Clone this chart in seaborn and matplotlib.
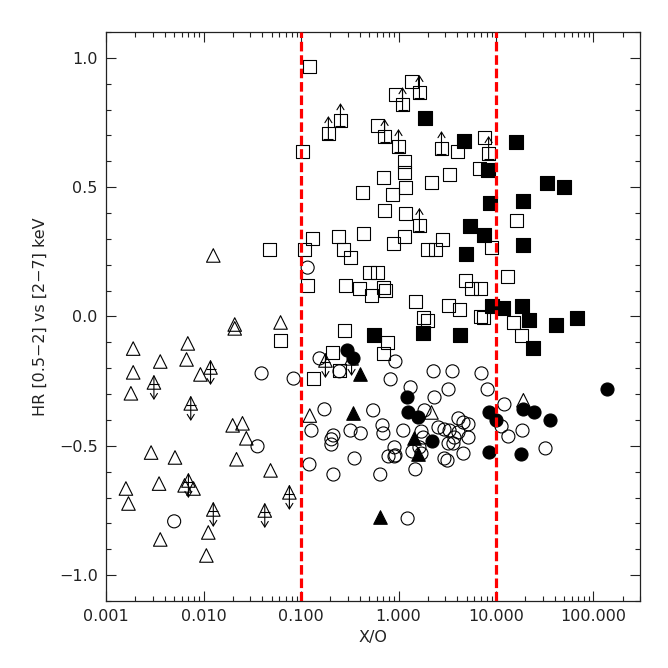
import matplotlib
matplotlib.use("Agg")
import matplotlib.pyplot as plt
import seaborn as sns
from matplotlib.ticker import FixedLocator, LogLocator, MultipleLocator, FuncFormatter, NullFormatter

# ---------------------------
# data: X/O ratio vs hardness ratio
# ---------------------------
# open squares
osq_xo = [0.122, 0.103, 0.61, 0.93, 1.36, 1.15, 1.15, 0.70, 0.43, 4.03,
          7.6, 6.8, 3.34, 2.18, 1.18, 0.87, 0.72, 1.18, 0.131, 0.109,
          0.243, 0.273, 0.322, 0.438, 0.89, 1.15, 1.98, 2.39, 2.83, 0.50,
          0.61, 0.117, 0.286, 0.40, 0.53, 0.70, 0.74, 1.49, 3.26, 4.22,
          1.80, 1.98, 6.9, 4.86, 5.6, 6.9, 9.0, 0.279, 13.1, 16.2,
          15.1, 18.3, 7.4, 0.0475, 0.0617, 0.77, 0.70, 0.21, 0.248, 0.134]
osq_hr = [0.966, 0.638, 0.738, 0.858, 0.908, 0.599, 0.557, 0.537, 0.479, 0.638,
          0.692, 0.572, 0.549, 0.518, 0.499, 0.472, 0.410, 0.398, 0.301, 0.259,
          0.309, 0.259, 0.228, 0.321, 0.282, 0.309, 0.259, 0.259, 0.298, 0.170,
          0.170, 0.120, 0.120, 0.108, 0.081, 0.112, 0.100, 0.058, 0.043, 0.027,
          -0.004, -0.015, 0.0, 0.139, 0.108, 0.108, 0.267, -0.054, 0.155, 0.371,
          -0.023, -0.073, -0.004, 0.259, -0.093, -0.100, -0.143, -0.139, -0.209, -0.240]

# open squares with lower limits (up arrows)
osq_lim_xo = [0.191, 0.254, 0.72, 1.0, 1.10, 1.64, 2.76, 8.4, 1.64]
osq_lim_hr = [0.707, 0.757, 0.696, 0.657, 0.819, 0.866, 0.649, 0.630, 0.352]

# filled squares
fsq_xo = [1.89, 4.75, 15.9, 8.2, 33.0, 50.0, 8.6, 19.1, 5.35, 7.6,
          18.7, 4.98, 9.0, 11.7, 18.3, 21.9, 41.7, 68.5, 23.7, 0.567,
          1.80, 4.32]
fsq_hr = [0.769, 0.680, 0.676, 0.568, 0.518, 0.499, 0.437, 0.448, 0.348, 0.317,
          0.278, 0.240, 0.039, 0.031, 0.039, -0.012, -0.031, -0.004, -0.120, -0.070,
          -0.062, -0.073]

# open circles
ocir_xo = [0.117, 0.084, 0.155, 0.248, 0.93, 0.83, 0.174, 0.55, 0.128, 0.215,
           0.205, 0.205, 0.322, 0.41, 0.685, 0.70, 0.122, 0.215, 0.354, 0.65,
           0.91, 0.79, 0.91, 1.12, 1.33, 2.29, 3.58, 3.26, 2.34, 7.1,
           8.2, 1.85, 1.72, 1.80, 1.64, 1.39, 1.72, 1.49, 1.24, 2.57,
           2.96, 3.34, 4.12, 4.64, 5.22, 4.12, 3.75, 5.22, 3.26, 3.66,
           4.64, 2.96, 3.18, 0.93, 12.2, 11.4, 13.4, 18.7, 32.2, 0.0394,
           0.0358, 0.0050]
ocir_hr = [0.189, -0.240, -0.162, -0.212, -0.174, -0.243, -0.359, -0.363, -0.441, -0.460,
           -0.475, -0.495, -0.441, -0.452, -0.421, -0.452, -0.572, -0.611, -0.549, -0.611,
           -0.506, -0.541, -0.541, -0.441, -0.274, -0.212, -0.212, -0.282, -0.313, -0.220,
           -0.282, -0.363, -0.445, -0.468, -0.506, -0.522, -0.530, -0.591, -0.781, -0.429,
           -0.437, -0.441, -0.394, -0.410, -0.417, -0.448, -0.468, -0.468, -0.491, -0.491,
           -0.530, -0.549, -0.557, -0.537, -0.340, -0.425, -0.464, -0.441, -0.510, -0.220,
           -0.502, -0.792]

# filled circles
fcir_xo = [0.293, 0.345, 1.21, 1.24, 1.57, 2.23, 8.4, 10.1, 8.4, 18.7,
           24.3, 35.5, 17.9, 139.0]
fcir_hr = [-0.131, -0.162, -0.313, -0.371, -0.390, -0.483, -0.371, -0.402, -0.522, -0.359,
           -0.371, -0.402, -0.533, -0.282]

# open triangles
otri_xo = [0.0019, 0.0019, 0.0018, 0.0036, 0.0069, 0.0067, 0.0093, 0.0209, 0.0209, 0.0617,
           0.0199, 0.0251, 0.0275, 0.0218, 0.0487, 0.0029, 0.0051, 0.0035, 0.0016, 0.0017,
           0.0064, 0.0079, 0.0112, 0.0036, 0.0107, 0.0126, 0.123, 2.18, 19.1]
otri_hr = [-0.124, -0.216, -0.297, -0.174, -0.104, -0.166, -0.224, -0.031, -0.046, -0.023,
           -0.421, -0.413, -0.471, -0.552, -0.595, -0.526, -0.545, -0.646, -0.665, -0.723,
           -0.653, -0.665, -0.835, -0.862, -0.924, 0.236, -0.383, -0.371, -0.324]

# open triangles with upper limits (down arrows)
otri_lim_xo = [0.0031, 0.0118, 0.0074, 0.076, 0.0425, 0.0070, 0.0126, 0.178, 0.33]
otri_lim_hr = [-0.255, -0.197, -0.336, -0.680, -0.750, -0.634, -0.746, -0.170, -0.162]

# filled triangles
ftri_xo = [0.40, 0.345, 1.43, 1.57, 0.64]
ftri_hr = [-0.224, -0.375, -0.471, -0.533, -0.777]

xo_cuts = [0.1, 10.0]
x_ticks = [0.001, 0.01, 0.1, 1.0, 10.0, 100.0]
y_ticks = [-1.0, -0.5, 0.0, 0.5, 1.0]

# ---------------------------
# style
# ---------------------------
sns.set_style("ticks")
plt.rcParams['font.family'] = ['DejaVu Sans']
plt.rcParams['font.size'] = 11.5
plt.rcParams['text.color'] = '#222222'
plt.rcParams['axes.labelcolor'] = '#222222'
plt.rcParams['xtick.color'] = '#222222'
plt.rcParams['ytick.color'] = '#222222'

fig = plt.figure(figsize=(6.68, 6.68), dpi=100)
ax = fig.add_axes([0.1587, 0.1003, 0.7994, 0.8518])
ax.set_xscale('log')


def draw(xs, ys, marker, filled, size, z):
    sns.scatterplot(x=xs, y=ys, marker=marker, s=size, ax=ax,
                    facecolor='black' if filled else 'none',
                    edgecolor='black', linewidth=0.8, zorder=z, legend=False)


def arrows(xs, ys, up):
    for x, y in zip(xs, ys):
        if up:
            y0, y1, yb = y - 0.02, y + 0.068, y - 0.02
        else:
            y0, y1, yb = y + 0.025, y - 0.068, y - 0.005
        ax.annotate('', xy=(x, y1), xytext=(x, y0),
                    arrowprops=dict(arrowstyle='->,head_length=0.35,head_width=0.22',
                                    lw=0.8, color='black', shrinkA=0, shrinkB=0),
                    zorder=2)
        ax.plot([x], [yb], marker='_', ms=7, mew=0.8, color='black', zorder=2)


draw(osq_xo, osq_hr, 's', False, 88, 2)
draw(osq_lim_xo, osq_lim_hr, 's', False, 88, 2)
arrows(osq_lim_xo, osq_lim_hr, up=True)
draw(ocir_xo, ocir_hr, 'o', False, 88, 2)
draw(otri_xo, otri_hr, '^', False, 95, 2)
draw(otri_lim_xo, otri_lim_hr, '^', False, 95, 2)
arrows(otri_lim_xo, otri_lim_hr, up=False)

draw(fsq_xo, fsq_hr, 's', True, 88, 3)
draw(fcir_xo, fcir_hr, 'o', True, 88, 3)
draw(ftri_xo, ftri_hr, '^', True, 95, 3)

for xc in xo_cuts:
    ax.axvline(xc, color='red', lw=2.3, ls=(0, (3, 1.2)), zorder=4)

ax.set_xlim(0.001, 300)
ax.set_ylim(-1.1, 1.1)

ax.xaxis.set_major_locator(FixedLocator(x_ticks))
ax.xaxis.set_minor_locator(LogLocator(base=10, subs=range(2, 10), numticks=20))
ax.xaxis.set_major_formatter(FuncFormatter(lambda v, p: f"{v:.3f}"))
ax.xaxis.set_minor_formatter(NullFormatter())
ax.yaxis.set_major_locator(FixedLocator(y_ticks))
ax.yaxis.set_minor_locator(MultipleLocator(0.1))
ax.yaxis.set_major_formatter(FuncFormatter(lambda v, p: f"{v:.1f}".replace('-', '\u2212')))

ax.tick_params(which='both', direction='in', top=True, right=True, width=0.8)
ax.tick_params(which='major', length=7.5, pad=6, labelsize=11.5)
ax.tick_params(which='minor', length=3.5)
for sp in ax.spines.values():
    sp.set_linewidth(0.9)
    sp.set_color('#222222')

ax.set_xlabel('X/O', fontsize=11.5, labelpad=4)
ax.set_ylabel('HR [0.5\u22122] vs [2\u22127] keV', fontsize=11.5, labelpad=8)

fig.savefig('out.png', dpi=100)
